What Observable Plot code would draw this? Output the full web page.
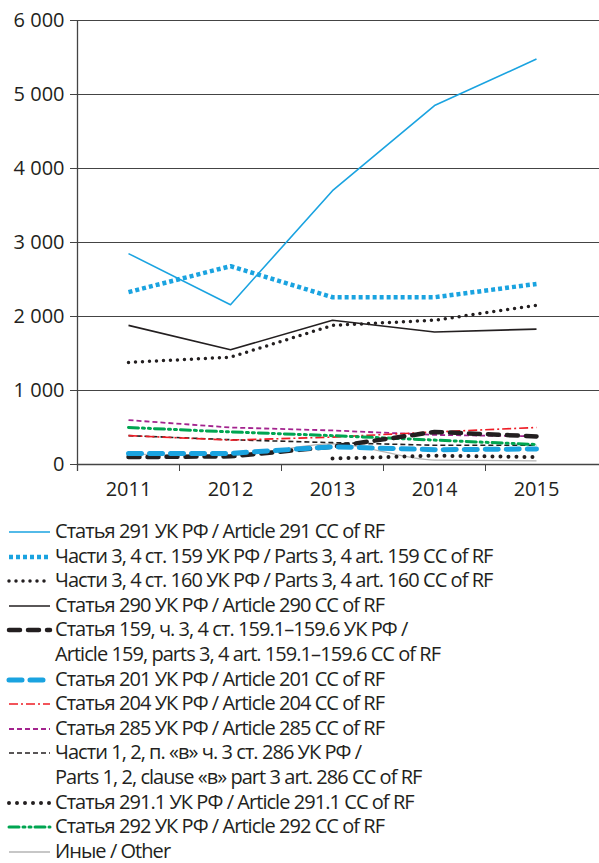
<!DOCTYPE html>
<html><head><meta charset="utf-8">
<script src="https://cdn.jsdelivr.net/npm/d3@7"></script>
<script src="https://cdn.jsdelivr.net/npm/@observablehq/plot@0.6"></script>
<style>
body{margin:0;background:#fff;font-family:"Open Sans",sans-serif;color:#231f20}
#legend{margin-top:9px;font-size:20px;line-height:24.6px;letter-spacing:-0.95px}
.row{display:flex;align-items:flex-start}
.sw{width:55px;flex:none;height:24.6px}
</style></head><body>
<div id="chart"></div>
<div id="legend"></div>
<script>
const years = [2011, 2012, 2013, 2014, 2015];
const yTicks = [0, 1000, 2000, 3000, 4000, 5000, 6000];
const names = [
  "Статья 291 УК РФ / Article 291 CC of RF",
  "Части 3, 4 ст. 159 УК РФ / Parts 3, 4 art. 159 CC of RF",
  "Части 3, 4 ст. 160 УК РФ / Parts 3, 4 art. 160 CC of RF",
  "Статья 290 УК РФ / Article 290 CC of RF",
  "Статья 159, ч. 3, 4 ст. 159.1–159.6 УК РФ /\nArticle 159, parts 3, 4 art. 159.1–159.6 CC of RF",
  "Статья 201 УК РФ / Article 201 CC of RF",
  "Статья 204 УК РФ / Article 204 CC of RF",
  "Статья 285 УК РФ / Article 285 CC of RF",
  "Части 1, 2, п. «в» ч. 3 ст. 286 УК РФ /\nParts 1, 2, clause «в» part 3 art. 286 CC of RF",
  "Статья 291.1 УК РФ / Article 291.1 CC of RF",
  "Статья 292 УК РФ / Article 292 CC of RF",
  "Иные / Other"
];
const v291   = [2850, 2160, 3700, 4850, 5480];
const v159p  = [2330, 2680, 2260, 2260, 2440];
const v160p  = [1380, 1450, 1880, 1950, 2150];
const v290   = [1880, 1550, 1950, 1790, 1830];
const v159   = [100, 110, 240, 440, 380];
const v201   = [150, 150, 240, 200, 210];
const v204   = [390, 330, 370, 440, 500];
const v285   = [600, 500, 460, 400, 380];
const v286   = [390, 335, 295, 260, 260];
const v2911  = [null, null, 80, 120, 100];
const v292   = [500, 440, 390, 330, 270];
const vOther = [140, 120, 280, 60, 50];

const seriesValues = [v291, v159p, v160p, v290, v159, v201, v204, v285, v286, v2911, v292, vOther];
const styles = [
  {stroke:"#1aa3e0", w:1.6, dash:null, cap:"butt"},
  {stroke:"#1aa3e0", w:4.5, dash:"4 3", cap:"butt"},
  {stroke:"#231f20", w:3.5, dash:"0 7", cap:"round"},
  {stroke:"#231f20", w:1.6, dash:null, cap:"butt"},
  {stroke:"#231f20", w:4.5, dash:"11 8", cap:"round"},
  {stroke:"#1aa3e0", w:5, dash:"13 8", cap:"round"},
  {stroke:"#ee1c25", w:1.6, dash:"9 3 2 3", cap:"butt"},
  {stroke:"#a3238e", w:1.8, dash:"5 3", cap:"butt"},
  {stroke:"#231f20", w:1.6, dash:"5 3", cap:"butt"},
  {stroke:"#231f20", w:4, dash:"0 8", cap:"round"},
  {stroke:"#00a551", w:3, dash:"10 4 2 4 2 4", cap:"round"},
  {stroke:"#b5b5b5", w:1.3, dash:null, cap:"butt"}
];
const rows = [];
seriesValues.forEach((vals, i) => vals.forEach((v, j) => { if (v != null) rows.push({s: i, year: years[j], value: v}); }));

const fmt = d => d === 0 ? "0" : d3.format(",")(d).replace(/,/g, " ");
const drawOrder = [11, 8, 7, 6, 10, 9, 4, 5, 3, 2, 1, 0];
const lineMarks = drawOrder.map(i => {
  const st = styles[i];
  return Plot.line(rows.filter(r => r.s === i), {
    x: "year", y: "value", stroke: st.stroke, strokeWidth: st.w,
    strokeDasharray: st.dash, strokeLinecap: st.cap, strokeLinejoin: "round",
    curve: i === 11 ? "monotone-x" : "linear"
  });
});

const chart = Plot.plot({
  width: 599, height: 510,
  marginLeft: 77, marginRight: 0, marginTop: 20, marginBottom: 46,
  style: {fontFamily: "Open Sans, sans-serif", fontSize: "20px", color: "#231f20", background: "#fff"},
  x: {type: "linear", domain: [2010.5, 2015.5], range: [77, 587]},
  y: {domain: [0, 6000]},
  marks: [
    Plot.ruleY(yTicks.slice(1), {stroke: "#444", strokeWidth: 1}),
    Plot.axisY({ticks: yTicks, tickFormat: fmt, tickSize: 7, tickPadding: 6, label: null, stroke: "#444", fill: "#231f20", fontSize: 20, style: {letterSpacing: "-0.5px"}}),
    Plot.ruleX([2010.5], {y1: -95, y2: 6000, stroke: "#444", strokeWidth: 1.3}),
    Plot.axisX({ticks: [2010.5, 2011.5, 2012.5, 2013.5, 2014.5], tickFormat: () => "", tickSize: 7, label: null, stroke: "#444"}),
    Plot.axisX({ticks: years, tickFormat: d => String(d), tickSize: 0, tickPadding: 17, label: null, fill: "#231f20", fontSize: 20, style: {letterSpacing: "-0.3px"}}),
    ...lineMarks,
    Plot.ruleY([0], {stroke: "#444", strokeWidth: 1.3})
  ]
});
document.getElementById("chart").append(chart);

const leg = document.getElementById("legend");
names.forEach((n, i) => {
  const st = styles[i];
  const row = document.createElement("div");
  row.className = "row";
  const ns = "http://www.w3.org/2000/svg";
  const sw = document.createElementNS(ns, "svg");
  sw.setAttribute("class", "sw"); sw.setAttribute("width", 55); sw.setAttribute("height", 24.6);
  const ln = document.createElementNS(ns, "line");
  ln.setAttribute("x1", 9); ln.setAttribute("x2", 50); ln.setAttribute("y1", 13); ln.setAttribute("y2", 13);
  ln.setAttribute("stroke", st.stroke); ln.setAttribute("stroke-width", st.w);
  if (st.dash) ln.setAttribute("stroke-dasharray", st.dash);
  ln.setAttribute("stroke-linecap", st.cap);
  sw.append(ln);
  const tx = document.createElement("div");
  tx.innerHTML = n.split("\n").join("<br>");
  row.append(sw, tx);
  leg.append(row);
});
</script>
</body></html>
